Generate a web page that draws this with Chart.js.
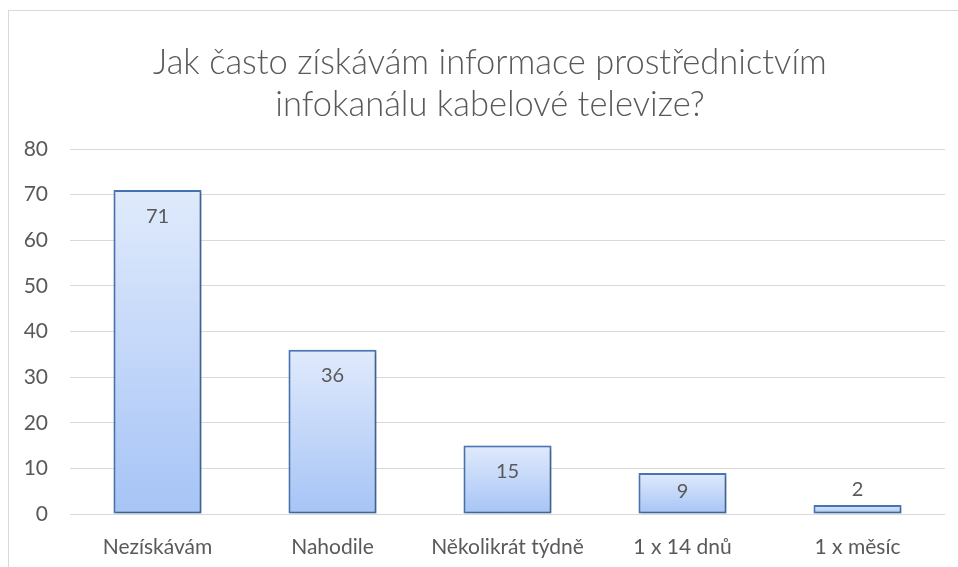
<!DOCTYPE html>
<html>
<head>
<meta charset="utf-8">
<script src="https://cdn.jsdelivr.net/npm/chart.js@4"></script>
<style>
  html, body { margin: 0; padding: 0; background: #fff; overflow: hidden; }
  #frame { position: absolute; left: 8px; top: 10px; width: 1000px; height: 600px;
           border-left: 1px solid #d9d9d9; border-top: 1px solid #d9d9d9; }
  #box { position: absolute; left: 0; top: 0; width: 962px; height: 570px; }
</style>
</head>
<body>
<div id="frame"><div id="box"><canvas id="chart"></canvas></div></div>
<script>
const titleLines = ['Jak často získávám informace prostřednictvím', 'infokanálu kabelové televize?'];
const categories = ['Nezískávám', 'Nahodile', 'Několikrát týdně', '1 x 14 dnů', '1 x měsíc'];
const counts = [71, 36, 15, 9, 2];
const yTicks = [0, 10, 20, 30, 40, 50, 60, 70, 80];

const textColor = '#595959';
const font = 'Lato';

// per-bar vertical gradient, light on top
function barFill(ctx) {
  const chart = ctx.chart;
  const y = chart.scales.y;
  if (!y || ctx.raw == null) return '#c5d9fa';
  const top = y.getPixelForValue(ctx.raw);
  const base = y.getPixelForValue(0);
  if (!isFinite(top) || !isFinite(base) || top === base) return '#c5d9fa';
  const g = chart.ctx.createLinearGradient(0, top, 0, base);
  g.addColorStop(0, '#e0eafc');
  g.addColorStop(1, '#a6c4f6');
  return g;
}

const valueLabels = {
  id: 'valueLabels',
  afterDatasetsDraw(chart) {
    const c = chart.ctx;
    const meta = chart.getDatasetMeta(0);
    c.save();
    c.font = '20px ' + font;
    c.fillStyle = textColor;
    c.textAlign = 'center';
    c.textBaseline = 'middle';
    meta.data.forEach((bar, i) => {
      const h = bar.base - bar.y;
      let ty;
      if (h >= 30) ty = Math.min(bar.y + 26, (bar.y + bar.base) / 2 - 2);
      else ty = bar.y - 15;
      c.fillText(String(counts[i]), bar.x, ty);
    });
    c.restore();
  }
};

const barShadow = {
  id: 'barShadow',
  beforeDatasetsDraw(chart) {
    const c = chart.ctx;
    c.save();
    c.shadowColor = 'rgba(0,0,0,0.28)';
    c.shadowBlur = 3;
    c.shadowOffsetX = 1;
    c.shadowOffsetY = 1;
  },
  afterDatasetsDraw(chart) { chart.ctx.restore(); }
};

new Chart(document.getElementById('chart'), {
  type: 'bar',
  data: {
    labels: categories,
    datasets: [{
      data: counts,
      backgroundColor: barFill,
      borderColor: '#4677b8',
      borderWidth: 2,
      borderSkipped: false,
      barPercentage: 1,
      categoryPercentage: 0.503
    }]
  },
  options: {
    responsive: true,
    maintainAspectRatio: false,
    animation: false,
    layout: { padding: 0 },
    plugins: {
      legend: { display: false },
      tooltip: { enabled: false },
      title: {
        display: true,
        text: titleLines,
        color: textColor,
        font: { family: font, size: 34.5, weight: '300', lineHeight: 42 / 34.5 },
        padding: { top: 31, bottom: 23 }
      }
    },
    scales: {
      x: {
        grid: { display: false },
        border: { display: false },
        ticks: { color: textColor, font: { family: font, size: 21 }, padding: 13, maxRotation: 0 },
        afterFit(s) { s.height = 67; }
      },
      y: {
        min: 0, max: 80,
        afterBuildTicks(s) { s.ticks = yTicks.map(v => ({ value: v })); },
        grid: { color: '#d9d9d9', lineWidth: 1, drawTicks: false },
        border: { display: false },
        ticks: { color: textColor, font: { family: font, size: 21 }, padding: 22 },
        afterFit(s) { s.width = 61; }
      },
      // empty right-hand spacer so the title stays centred on the whole frame
      spacer: {
        type: 'linear',
        position: 'right',
        min: 0, max: 80,
        grid: { display: false },
        border: { display: false },
        ticks: { display: false },
        afterFit(s) { s.width = 26; }
      }
    }
  },
  plugins: [barShadow, valueLabels]
});
</script>
</body>
</html>
